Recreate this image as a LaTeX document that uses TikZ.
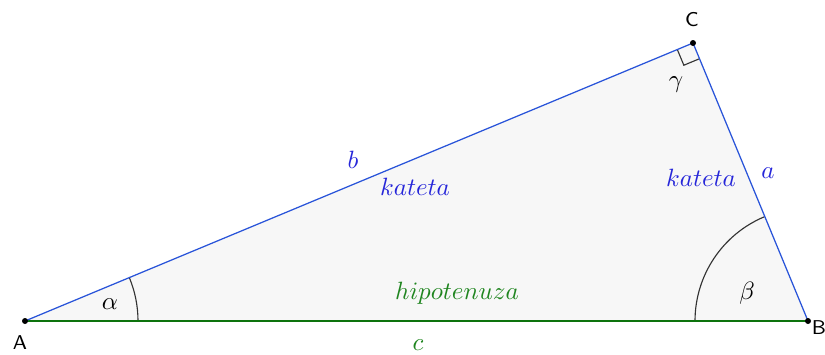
\documentclass[tikz,border=0pt]{standalone}
\usepackage{amsmath}
\usetikzlibrary{calc,angles}
\definecolor{katetablue}{rgb}{0.16,0.33,0.85}
\definecolor{labelblue}{rgb}{0.15,0.15,0.85}
\definecolor{hipgreen}{rgb}{0.05,0.45,0.05}
\definecolor{labelgreen}{rgb}{0.12,0.52,0.12}
\definecolor{triafill}{rgb}{0.97,0.97,0.97}
\tikzset{
  vrchol/.style={
    circle,
    fill=black,
    inner sep=0pt,
    minimum size=2.4pt
  },
  oznaka/.style={
    font=\footnotesize\sffamily,
    inner sep=1pt
  },
  strana/.style={
    line width=0.5pt
  },
  kut/.style={
    draw=black!80,
    line width=0.45pt,
    angle radius=45.2pt
  }
}
\begin{document}
\begin{tikzpicture}[x=0.4pt,y=-0.4pt]
\useasboundingbox (0,0) rectangle (825,354);
\coordinate (A) at (25,321);
\coordinate (B) at (808,321);
\coordinate (C) at (693,43);
% ispuna trokuta
\fill[triafill] (A) -- (B) -- (C) -- cycle;
% kutovi
\pic[kut] {angle=B--A--C};
\pic[kut] {angle=C--B--A};
\draw[black!80, line width=0.45pt] ($(C)!6.8pt!(A)$) -- ($(C)!6.8pt!(A)!6.8pt!90:(A)$) -- ($(C)!6.8pt!(B)$);
% stranice
\draw[strana, hipgreen] (A) -- (B);
\draw[strana, katetablue] (A) -- (C);
\draw[strana, katetablue] (C) -- (B);
\node[vrchol] (a) at (A) {};
\node[vrchol] (b) at (B) {};
\node[vrchol] (c) at (C) {};
\node[oznaka] (la) at (20,343) {A};
\node[oznaka] (lb) at (819,328) {B};
\node[oznaka] (lc) at (692,20) {C};
% oznake stranica
\node[labelblue] (sb) at (353,160) {$b$};
\node[labelblue] (kb) at (415,187) {$kateta$};
\node[labelblue] (sa) at (768,173) {$a$};
\node[labelblue] (ka) at (701,178) {$kateta$};
\node[labelgreen] (hc) at (457,293) {$hipotenuza$};
\node[labelgreen] (sc) at (418,345) {$c$};
% oznake kutova
\node (alfa) at (110,304) {$\alpha$};
\node (beta) at (747,293) {$\beta$};
\node (gama) at (676,85) {$\gamma$};
\end{tikzpicture}
\end{document}
